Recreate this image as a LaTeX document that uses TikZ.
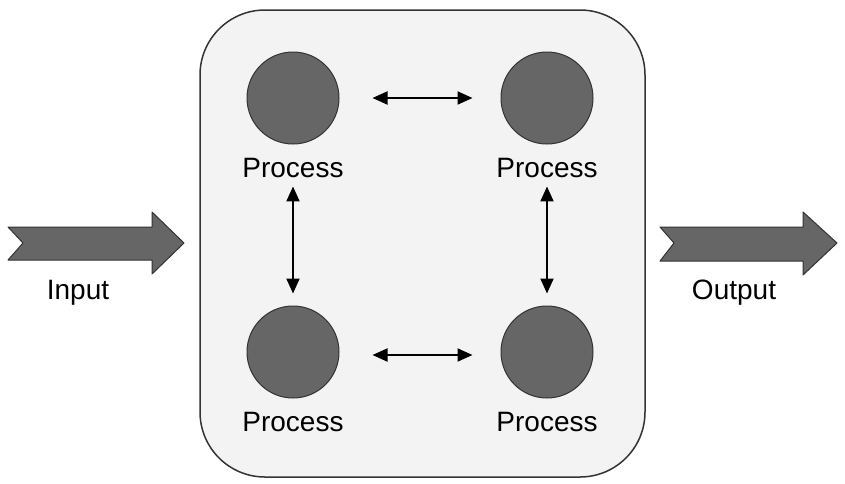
\documentclass[tikz,border=0pt]{standalone}
\usepackage{fontspec}
\setmainfont{Liberation Sans}
\usepackage{tikz}
\usetikzlibrary{arrows.meta,positioning}

\definecolor{boxfill}{HTML}{F3F3F3}
\definecolor{procfill}{HTML}{666666}
\definecolor{edgegray}{HTML}{333333}

\begin{document}
\begin{tikzpicture}[x=1pt,y=-1pt,
  proc/.style={circle, fill=procfill, draw=edgegray, line width=1pt, minimum size=92pt, inner sep=0pt},
  plabel/.style={font=\fontsize{28}{32}\selectfont, inner sep=0pt},
  link/.style={{Triangle[length=15pt,width=13pt]}-{Triangle[length=15pt,width=13pt]}, line width=2pt},
  bigarrow/.style={fill=procfill, draw=edgegray, line width=1pt, line join=round}]
\useasboundingbox (0,0) rectangle (845,483);
% Container
\draw[fill=boxfill, draw=edgegray, line width=1.5pt, rounded corners=65pt] (200,10) rectangle (645,477);
% Processes
\node[proc] (p1) at (293,98) {};
\node[proc] (p2) at (547,98) {};
\node[proc] (p3) at (293,352) {};
\node[proc] (p4) at (547,352) {};
\foreach \p in {1,2,3,4} {
  \node[plabel, below=14pt of p\p] (l\p) {Process};
}
% Links between processes
\draw[link, shorten <=33pt, shorten >=28pt] (p1) -- (p2);
\draw[link, shorten <=33pt, shorten >=28pt] ([yshift=-3pt]p3.east) -- ([yshift=-3pt]p4.west);
\draw[link, shorten <=8pt, shorten >=12pt] (l1.south) -- (p3.north);
\draw[link, shorten <=8pt, shorten >=12pt] (l2.south) -- (p4.north);
% Input / output
\draw[bigarrow] (8,227) -- (152,227) -- (152,212) -- (184,243) -- (152,274) -- (152,260) -- (8,260) -- (23,243) -- cycle;
\draw[bigarrow] (660,227) -- (803,227) -- (803,212) -- (837,243) -- (803,275) -- (803,261) -- (660,261) -- (674,243) -- cycle;
\node[plabel] (in) at (78,293) {Input};
\node[plabel] (out) at (734,293) {Output};
\end{tikzpicture}
\end{document}
